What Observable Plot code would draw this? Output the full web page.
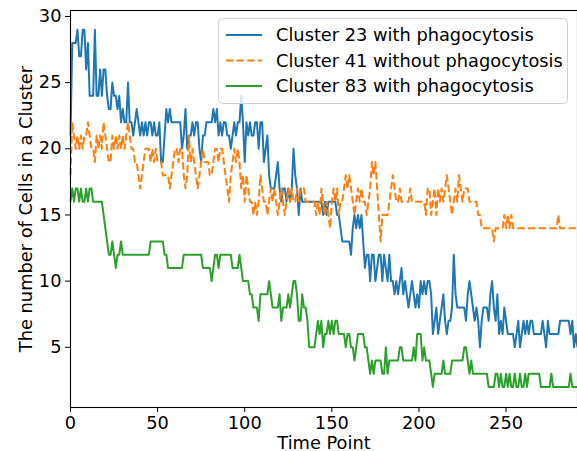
<!DOCTYPE html>
<html><head><meta charset="utf-8">
<script src="https://cdn.jsdelivr.net/npm/d3@7"></script>
<script src="https://cdn.jsdelivr.net/npm/@observablehq/plot@0.6"></script>
<style>
html,body{margin:0;padding:0;background:#fff;}
#chart{width:577px;height:451px;overflow:hidden;}
</style></head><body><div id="chart"></div>
<script>
const seriesNames = ["Cluster 23 with phagocytosis", "Cluster 41 without phagocytosis", "Cluster 83 with phagocytosis"];
const seriesColors = ["#1f77b4", "#ff7f0e", "#2ca02c"];
const seriesDash = [null, "7.4,3.2", null];
const xTicks = [0, 50, 100, 150, 200, 250];
const yTicks = [5, 10, 15, 20, 25, 30];
const xLabel = "Time Point";
const yLabel = "The number of Cells in a Cluster";

const cluster23 = [
/*0*/   21,28,28,28,29,27,27,29,29,26,
/*10*/  28,24,24,24,29,24,24,26,24,26,
/*20*/  26,24,23,23,25,24,24,23,24,22,
/*30*/  23,22,22,25,22,22,21,22,23,22,
/*40*/  21,22,21,22,21,22,22,21,22,21,
/*50*/  21,22,19,19,21,23,22,23,22,22,
/*60*/  22,22,22,22,20,21,23,20,21,21,
/*70*/  22,21,22,22,20,19,21,21,22,22,
/*80*/  22,22,23,22,23,21,22,21,22,22,
/*90*/  21,21,20,21,22,21,22,22,24,22,
/*100*/ 19,22,21,22,21,21,22,22,20,22,
/*110*/ 22,19,20,21,18,17,17,17,18,19,
/*120*/ 17,16,17,17,16,17,16,17,20,18,
/*130*/ 17,15,17,16,16,16,16,16,16,16,
/*140*/ 16,16,16,16,16,15,16,15,16,16,
/*150*/ 16,16,16,15,15,14,13,13,13,13,
/*160*/ 13,12,14,15,14,15,14,15,13,11,
/*170*/ 12,12,10,12,12,10,11,12,12,10,
/*180*/ 12,11,10,12,10,10,9,10,9,10,
/*190*/ 11,9,10,9,8,9,10,9,8,9,
/*200*/ 8,10,9,10,9,10,10,9,6,7,
/*210*/ 8,6,7,8,9,7,6,7,7,8,
/*220*/ 12,9,8,8,8,8,8,7,9,10,
/*230*/ 9,8,7,8,7,5,7,8,8,8,
/*240*/ 7,9,10,8,7,9,6,7,6,8,
/*250*/ 7,6,6,6,6,5,6,7,5,6,
/*260*/ 7,6,7,6,7,7,6,6,6,6,
/*270*/ 6,7,6,5,7,6,6,6,6,6,
/*280*/ 6,7,7,7,7,7,7,6,7,5,
/*290*/ 6,5
];

const cluster41 = [
/*0*/   18,22,21,20,21,20,21,20,21,21,
/*10*/  22,21,20,20,19,21,20,21,20,22,
/*20*/  21,20,19,19,21,20,21,20,21,20,
/*30*/  21,20,21,22,21,20,20,19,19,18,
/*40*/  17,18,19,20,20,20,19,20,19,20,
/*50*/  19,19,19,18,18,18,18,17,18,19,
/*60*/  20,20,19,20,20,18,17,18,21,19,
/*70*/  20,19,18,17,18,19,20,19,19,19,
/*80*/  18,18,19,20,20,19,20,20,19,18,
/*90*/  17,16,18,19,20,19,20,19,17,18,
/*100*/ 16,18,17,16,16,15,16,15,16,18,
/*110*/ 17,16,16,15,16,17,16,17,16,15,
/*120*/ 16,17,16,15,16,17,16,17,16,16,
/*130*/ 17,16,17,17,17,16,16,16,16,16,
/*140*/ 16,15,16,15,17,16,15,16,15,14,
/*150*/ 16,17,16,17,15,16,16,17,18,17,
/*160*/ 18,17,16,15,16,17,16,17,16,16,
/*170*/ 15,16,17,19,18,19,17,15,13,15,
/*180*/ 15,15,15,16,17,18,17,16,16,17,
/*190*/ 16,16,16,16,16,17,16,16,16,16,
/*200*/ 16,16,16,16,15,17,17,15,16,17,
/*210*/ 15,17,16,17,16,17,18,17,16,15,
/*220*/ 16,17,16,18,17,16,17,17,17,16,
/*230*/ 16,16,16,16,15,15,14,14,14,14,
/*240*/ 14,14,14,13,14,14,14,14,14,15,
/*250*/ 14,15,14,15,14,14,14,14,14,14,
/*260*/ 14,14,14,14,14,14,14,14,14,14,
/*270*/ 14,14,14,14,14,14,14,14,14,14,
/*280*/ 15,14,14,14,14,14,14,14,14,14,
/*290*/ 14,14
];

const cluster83 = [
/*0*/   16,17,16,17,17,16,17,16,16,17,
/*10*/  16,17,17,16,16,16,16,16,16,15,
/*20*/  14,13,12,12,13,12,11,12,12,13,
/*30*/  12,12,12,12,12,12,12,12,12,12,
/*40*/  12,12,12,12,12,12,13,13,13,13,
/*50*/  13,13,13,13,12,12,11,11,11,11,
/*60*/  11,11,11,11,11,12,12,12,12,12,
/*70*/  12,12,12,12,12,12,11,11,11,11,
/*80*/  11,10,11,12,12,11,12,12,12,12,
/*90*/  12,12,12,11,11,11,11,12,11,10,
/*100*/ 10,10,10,9,9,8,8,8,7,9,
/*110*/ 9,9,9,9,10,9,8,8,8,8,
/*120*/ 9,7,8,8,8,9,8,9,10,10,
/*130*/ 9,7,7,9,8,8,7,5,5,5,
/*140*/ 5,6,7,6,7,5,6,6,7,6,
/*150*/ 7,6,7,7,6,6,6,6,5,6,
/*160*/ 6,5,5,4,5,6,6,6,6,5,
/*170*/ 5,4,3,4,3,4,4,4,4,3,
/*180*/ 3,5,3,4,4,4,4,4,4,5,
/*190*/ 5,4,4,4,4,4,4,5,4,6,
/*200*/ 6,6,4,5,4,4,4,3,2,3,
/*210*/ 3,3,3,3,4,3,3,3,3,4,
/*220*/ 4,4,4,4,4,4,5,5,4,3,
/*230*/ 4,3,3,3,3,3,3,3,3,3,
/*240*/ 2,2,2,2,3,3,2,3,2,2,
/*250*/ 3,2,3,2,2,3,2,2,3,2,
/*260*/ 2,3,2,3,3,3,3,3,3,3,
/*270*/ 2,2,2,2,2,2,3,2,2,2,
/*280*/ 2,2,2,2,2,2,2,3,2,2,
/*290*/ 2,2
];

const allSeries = [cluster23, cluster41, cluster83];
const toRows = (vals) => vals.map((v, i) => ({t: i, v}));

const lineMarks = allSeries.map((vals, k) =>
  Plot.line(toRows(vals), {
    x: "t", y: "v",
    stroke: seriesColors[k],
    strokeWidth: 2,
    strokeDasharray: seriesDash[k] || undefined,
    strokeLinejoin: "round",
    strokeLinecap: "butt"
  })
);

const plot = Plot.plot({
  width: 577,
  height: 451,
  marginLeft: 70,
  marginRight: 0,
  marginTop: 10,
  marginBottom: 44,
  style: {fontFamily: "'DejaVu Sans', sans-serif", fontSize: "17.8px", color: "#000", background: "#fff"},
  x: {domain: [0, 291]},
  y: {domain: [0.45, 30.45]},
  marks: [
    ...lineMarks,
    Plot.axisX({ticks: xTicks, tickSize: 5, tickPadding: 4, label: xLabel, labelAnchor: "center", labelOffset: 41, labelArrow: "none", fontSize: 17.8}),
    Plot.axisY({ticks: yTicks, tickSize: 5, tickPadding: 4, label: yLabel, labelAnchor: "center", labelOffset: 51, labelArrow: "none", fontSize: 17.8}),
    Plot.frame({stroke: "#000", strokeWidth: 1.1})
  ]
});

document.getElementById("chart").appendChild(plot);

// Legend (matplotlib-style, upper right inside axes)
const svg = d3.select(plot);
const lg = svg.append("g")
  .attr("font-family", "'DejaVu Sans', sans-serif")
  .attr("font-size", 17.8)
  .attr("text-anchor", "start");
lg.append("rect")
  .attr("x", 218.5).attr("y", 18.5).attr("width", 349).attr("height", 85)
  .attr("rx", 4).attr("ry", 4)
  .attr("fill", "#fff").attr("fill-opacity", 0.8)
  .attr("stroke", "#d0d0d0").attr("stroke-width", 1);
const rowY = [35, 60.5, 86];
seriesNames.forEach((name, k) => {
  lg.append("line")
    .attr("x1", 226).attr("x2", 262).attr("y1", rowY[k]).attr("y2", rowY[k])
    .attr("stroke", seriesColors[k]).attr("stroke-width", 2)
    .attr("stroke-dasharray", seriesDash[k]);
  lg.append("text")
    .attr("x", 276).attr("y", rowY[k]).attr("dy", "0.35em")
    .attr("text-anchor", "start")
    .attr("fill", "#000")
    .text(name);
});
</script>
</body></html>
